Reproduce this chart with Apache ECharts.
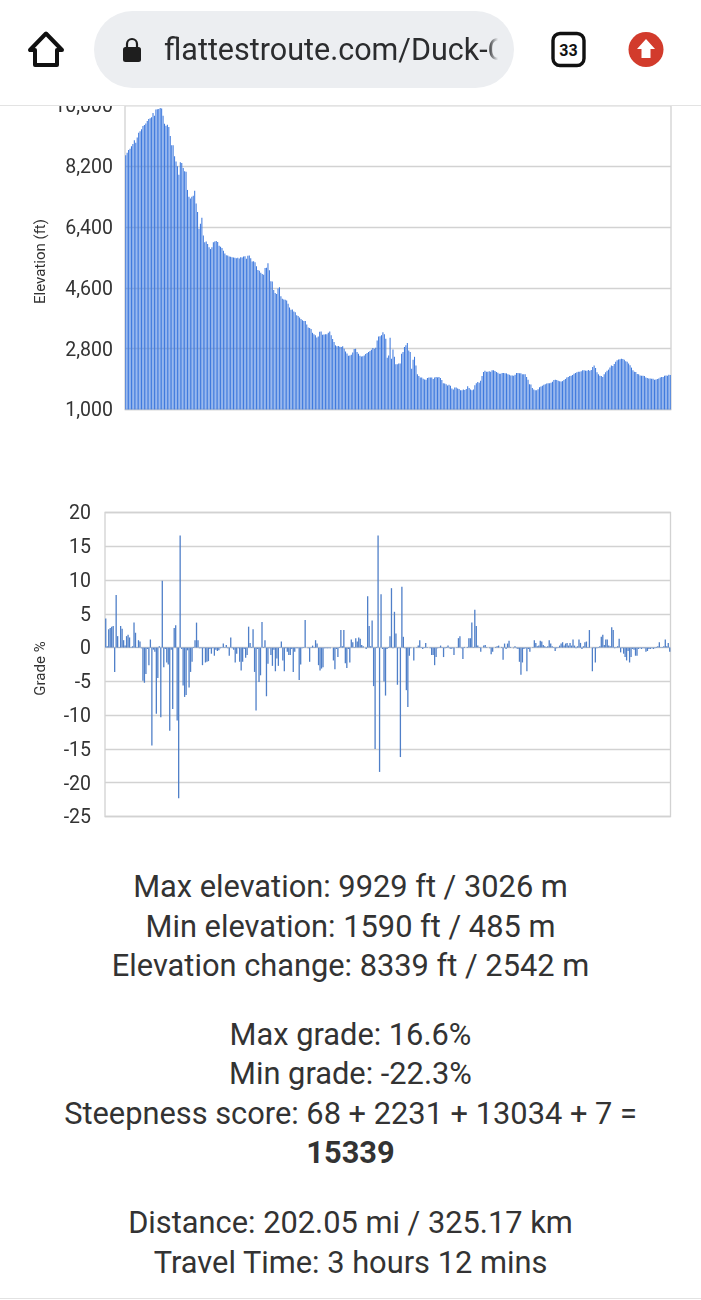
<!DOCTYPE html>
<html>
<head>
<meta charset="utf-8">
<title>Route profile</title>
<script src="https://cdn.jsdelivr.net/npm/echarts@6/dist/echarts.min.js"></script>
<style>
  html, body { margin: 0; padding: 0; background: #fff; width: 701px; height: 1300px; overflow: hidden; font-family: Roboto, sans-serif; }
  #chart { position: absolute; left: 0; top: 0; width: 701px; height: 830px; }
  #bar { position: absolute; left: 0; top: 0; width: 701px; height: 105px; background: #fff; border-bottom: 1px solid #e3e3e3; z-index: 5; }
  #pill { position: absolute; left: 94px; top: 11px; width: 420px; height: 77px; border-radius: 39px; background: #eceef1; overflow: hidden; }
  #url { position: absolute; left: 70px; top: 19px; width: 334px; overflow: hidden; white-space: nowrap; font-size: 30.5px; line-height: 40px; color: #2b2c2e;
         -webkit-mask-image: linear-gradient(to right, #000 80%, #666 97%, transparent 100%); mask-image: linear-gradient(to right, #000 80%, #666 97%, transparent 100%); }
  svg.icon { position: absolute; left: 0; top: 0; z-index: 6; }
  .stats { position: absolute; left: 0; width: 701px; text-align: center; font-size: 30.8px; line-height: 39.6px; color: #333; }
  #rule { position: absolute; left: 0; top: 1298px; width: 701px; height: 1px; background: #e2e2e2; }
</style>
</head>
<body>
<div id="chart"></div>
<div id="bar">
  <div id="pill"><div id="url">flattestroute.com/Duck-Creek</div></div>
</div>
<svg class="icon" width="701" height="105" viewBox="0 0 701 105">
  <path d="M46 33.5 L30 50 H35 V65 H57 V50 H62 Z" fill="none" stroke="#111" stroke-width="4" stroke-linejoin="round"/>
  <rect x="123" y="47" width="18" height="15" rx="2.5" fill="#1e1e1e"/>
  <path d="M127 48 V44 a5 5 0 0 1 10 0 V48" fill="none" stroke="#1e1e1e" stroke-width="2.2"/>
  <rect x="553" y="33.5" width="31" height="32" rx="7" fill="#fff" stroke="#111" stroke-width="3.4"/>
  <text x="568.5" y="56" text-anchor="middle" font-family="Roboto" font-size="16" font-weight="700" fill="#111">33</text>
  <circle cx="646" cy="49.5" r="17.5" fill="#d23b2c"/>
  <path d="M646 39 L655 49 H650.5 V58 H641.5 V49 H637 Z" fill="#fff"/>
</svg>

<div class="stats" style="top:867px">Max elevation: 9929 ft / 3026 m<br>Min elevation: 1590 ft / 485 m<br>Elevation change: 8339 ft / 2542 m</div>
<div class="stats" style="top:1014.5px">Max grade: 16.6%<br>Min grade: -22.3%<br>Steepness score: 68 + 2231 + 13034 + 7 =<br><b>15339</b></div>
<div class="stats" style="top:1203px">Distance: 202.05 mi / 325.17 km<br>Travel Time: 3 hours 12 mins</div>
<div id="rule"></div>

<script>
// Elevation along the route in feet, one bar per sample.
const elevationFt = [
  8530, 8600, 8680, 8720, 8790, 8860, 8970, 8900, 9050, 9190,
  9240, 9300, 9390, 9420, 9470, 9540, 9600, 9620, 9650, 9780,
  9700, 9880, 9890, 9900, 9929, 9910, 9700, 9460, 9400, 9430,
  9360, 9100, 8820, 8820, 8500, 8340, 8200, 7950, 8320, 8300,
  8150, 8050, 8035, 7500, 7300, 7250, 7300, 7330, 7475, 7100,
  6850, 6350, 6500, 6680, 6150, 5950, 5970, 5900, 5800, 5750,
  5800, 5950, 5970, 5990, 5960, 5850, 5820, 5780, 5700, 5620,
  5570, 5560, 5530, 5520, 5510, 5500, 5490, 5480, 5490, 5470,
  5510, 5500, 5530, 5540, 5460, 5550, 5560, 5480, 5380, 5390,
  5360, 5240, 5130, 5110, 5050, 5010, 4990, 5190, 5200, 5330,
  5120, 4800, 4790, 4540, 4450, 4420, 4580, 4620, 4350, 4280,
  4260, 4250, 4230, 4130, 4020, 3950, 3960, 3900, 3880, 3790,
  3770, 3720, 3680, 3640, 3620, 3620, 3520, 3430, 3410, 3380,
  3270, 3230, 3200, 3130, 3160, 3300, 3310, 3210, 3220, 3230,
  3230, 3270, 3310, 3200, 3090, 3000, 2900, 2870, 2880, 2860,
  2850, 2870, 2800, 2720, 2660, 2590, 2600, 2620, 2690, 2790,
  2800, 2700, 2650, 2590, 2570, 2580, 2600, 2640, 2670, 2700,
  2730, 2770, 2820, 2800, 2830, 3040, 3160, 3165, 3200, 3290,
  3230, 3095, 2535, 2600, 3125, 2505, 2780, 2560, 2340, 2340,
  2360, 2360, 2650, 2700, 2850, 2900, 2970, 2750, 2700, 2210,
  2475, 2560, 2300, 2040, 1990, 1945, 1950, 1910, 1890, 1880,
  1930, 1950, 1950, 1950, 1900, 1950, 1960, 1950, 1960, 1930,
  1870, 1780, 1770, 1750, 1710, 1730, 1700, 1620, 1590, 1650,
  1650, 1620, 1610, 1570, 1570, 1590, 1580, 1610, 1690, 1640,
  1590, 1570, 1590, 1720, 1780, 1815, 1790, 1850, 1990, 2110,
  2150, 2120, 2120, 2130, 2120, 2160, 2160, 2140, 2110, 2090,
  2060, 2060, 2080, 2080, 2070, 2070, 2040, 2030, 2010, 2010,
  2000, 2030, 2080, 2080, 2070, 2070, 2040, 2040, 2040, 1965,
  1880, 1750, 1740, 1640, 1590, 1570, 1570, 1600, 1660, 1680,
  1700, 1730, 1750, 1770, 1780, 1780, 1790, 1820, 1870, 1880,
  1870, 1850, 1840, 1830, 1840, 1870, 1900, 1950, 1960, 1990,
  2000, 2020, 2060, 2080, 2100, 2120, 2120, 2130, 2160, 2160,
  2150, 2150, 2170, 2150, 2170, 2260, 2300, 2230, 2100, 2040,
  2000, 1990, 1960, 2040, 2100, 2150, 2180, 2240, 2300, 2290,
  2350, 2410, 2460, 2480, 2490, 2500, 2495, 2470, 2430, 2410,
  2360, 2310, 2240, 2160, 2120, 2110, 2050, 2040, 2010, 2000,
  2000, 1990, 1950, 1930, 1920, 1920, 1910, 1910, 1880, 1890,
  1900, 1920, 1950, 1960, 1960, 2000, 2010, 2000, 2030, 2020
];

// Grade between samples, in percent.
const gradePct = [
  4.3, 0.2, 2.7, 2.9, 3.1, 3.2, -3.6, 7.8, 1.7, 0.1,
  3.2, 2.8, 1.1, 0.3, 1.7, 1.9, 1.5, 0.1, 0.2, 3.7,
  2.2, 0.1, 1.1, 0.9, -0.1, -4.9, -5.2, -3.9, -0.2, -2.6,
  1.2, -14.5, -0.3, -0.6, -9.8, -4.5, 0.2, -10.3, 9.9, -2.9,
  -0.2, -2.2, -2.5, -12.3, -0.3, -9.1, 2.9, 3.3, -10.8, -22.3,
  16.6, -0.2, -5.6, -7.3, -7.0, -0.4, -5.9, -3.6, -2.1, 0.1,
  1.1, 3.7, 1.1, -0.1, -0.1, -2.6, -0.1, -2.2, -2.1, -2.0,
  -0.2, -0.9, -0.1, -1.2, -0.3, -0.5, -0.4, -0.1, 0.1, 0.6,
  0.1, 0.4, -0.1, -1.2, 1.5, -0.1, -0.3, -2.2, -0.9, -0.1,
  -2.1, -3.4, -2.1, -0.2, -1.5, -1.1, 3.1, 0.7, 0.1, 2.7,
  -3.6, -9.3, -0.2, -5.1, -4.1, 3.8, 0.1, 1.1, -7.2, -2.4,
  -0.1, -1.1, -2.7, -0.3, -3.5, -1.6, -2.7, 0.1, 0.9, -1.9,
  -3.5, -0.1, -0.6, -1.1, -1.1, -0.2, -3.6, -0.6, -0.1, -0.1,
  -4.8, -2.5, -0.1, 0.1, 4.1, 0, -0.1, -2.1, 0.1, 0.3,
  0.1, 1.1, 0.6, -2.6, -3.4, -3.1, -2.9, -0.1, -0.1, -0.1,
  -0.1, -0.1, 0, -1.9, -3.2, -0.2, -1.4, 0.1, 2.6, 0.2,
  2.6, -2.3, -3.0, -0.2, -2.2, 1.2, 0.8, 0.1, 1.4, 0.9,
  1.5, 1.3, 0.4, 0.2, 0, -0.2, 7.6, 3.2, 0.2, 4.0,
  -5.7, -15, 0.1, 16.6, -18.4, 7.9, -0.2, -5.0, -7.1, -0.2,
  0.1, 1.7, 8.8, -0.1, 5.3, 2.1, -5.5, -0.1, -16.2, 9.0,
  1.6, -0.1, -6.3, -8.8, -1.2, -0.1, 0, -1.9, 0, 0.1,
  0.3, 1.1, 0.1, -0.2, 0.1, 0.7, 0.1, 0, -0.1, -1.1,
  -1.1, -2.6, -1.4, -0.1, 0.1, 0.3, 0.1, -1.4, -0.1, 0.1,
  0.3, -0.1, -0.2, -0.1, -1.1, 0, 0.1, 1.4, 1.7, -0.1,
  -1.7, 0.1, 0, 0.1, 1.4, 1.4, 3.7, 0.1, 5.6, 3.2,
  0.3, 0.1, -0.6, 0, 0.3, 0.4, 0.1, 0, -0.1, -1.0,
  -0.6, 0, 0.1, 0.2, 0.3, 0, 0.1, -1.8, 0.6, -0.2,
  0.6, 1.0, 0.1, 0, -0.1, 0.2, -0.1, -0.2, -2.1, -4.0,
  -2.2, -0.2, -0.1, -3.5, -0.2, -0.6, 0, 0.1, 1.1, 0.7,
  0.2, 0.3, 1.0, 0.9, 0.4, 0.2, 0.1, 0.2, 1.1, 0.6,
  0.2, 0.1, -0.5, -0.1, 0.1, 0.3, 0.6, 0.8, 0.3, 0.6,
  0.7, 0.3, 0.7, 0.3, 1.2, 0.3, -0.1, 0.2, 1.2, 0.7,
  -0.2, 0.2, 0.8, 0.9, 0.1, 2.6, 0, -3.5, -0.1, -2.2,
  -0.1, 0.1, 0.2, 1.6, 1.9, 0.4, 1.2, 1.2, 0.3, 0.2,
  3.0, 2.6, -0.1, 0.1, 0.2, 1.3, -0.7, -0.1, -0.9, -1.4,
  -1.9, -0.5, -2.2, -1.4, -0.2, -0.3, -1.2, -1.2, -0.2, -0.1,
  -0.2, -0.1, -0.1, -0.6, -0.5, -0.2, -0.2, -0.1, -0.2, -0.1,
  0.1, 0.2, 0.8, 0.1, 0.1, 0.2, 1.2, 0.2, 0.7, -0.6
];

// Sample numbers along the route, used for both horizontal axes.
const samples = elevationFt.map((_, i) => i + 1);

const gridColor = '#d2d2d2';
// A short top-aligned line box drops each tick label slightly below its gridline.
const labelStyle = { color: '#333', fontFamily: 'Roboto', fontSize: 19.5, verticalAlign: 'top', lineHeight: 4 };
const nameStyle = { color: '#333', fontFamily: 'Roboto', fontSize: 15, padding: [0, 8, 0, 0] };
const hiddenCategoryAxis = gridIndex => ({
  type: 'category', gridIndex, data: samples,
  axisLine: { show: false }, axisTick: { show: false }, axisLabel: { show: false }, splitLine: { show: false }
});
const noAxisLine = { show: false };

const chart = echarts.init(document.getElementById('chart'), null, { renderer: 'canvas' });
chart.setOption({
  animation: false,
  grid: [
    { left: 125, right: 30, top: 105.5, height: 304, show: true, borderColor: gridColor, borderWidth: 1.3, backgroundColor: 'transparent' },
    { left: 105, right: 30.5, top: 512.5, height: 304, show: true, borderColor: gridColor, borderWidth: 1.3, backgroundColor: 'transparent' }
  ],
  xAxis: [hiddenCategoryAxis(0), hiddenCategoryAxis(1)],
  yAxis: [
    {
      type: 'value', gridIndex: 0, min: 1000, max: 10000, interval: 1800,
      name: 'Elevation (ft)', nameLocation: 'middle', nameGap: 76, nameMoveOverlap: false, nameTextStyle: nameStyle,
      axisLine: noAxisLine, axisTick: { show: false },
      axisLabel: { ...labelStyle, margin: 12, formatter: v => v.toLocaleString('en-US') },
      splitLine: { lineStyle: { color: gridColor, width: 1.3 } }
    },
    {
      type: 'value', gridIndex: 1, min: -25, max: 20, interval: 5,
      name: 'Grade %', nameLocation: 'middle', nameGap: 56, nameMoveOverlap: false, nameTextStyle: nameStyle,
      axisLine: noAxisLine, axisTick: { show: false },
      axisLabel: { ...labelStyle, margin: 14 },
      splitLine: { lineStyle: { color: gridColor, width: 1.3 } }
    }
  ],
  series: [
    { type: 'bar', xAxisIndex: 0, yAxisIndex: 0, data: elevationFt, barWidth: 1.05, itemStyle: { color: '#3f7ade' }, silent: true },
    { type: 'bar', xAxisIndex: 1, yAxisIndex: 1, data: gradePct, barWidth: 1.3, itemStyle: { color: '#4f7fc8' }, silent: true }
  ]
});
</script>
</body>
</html>
